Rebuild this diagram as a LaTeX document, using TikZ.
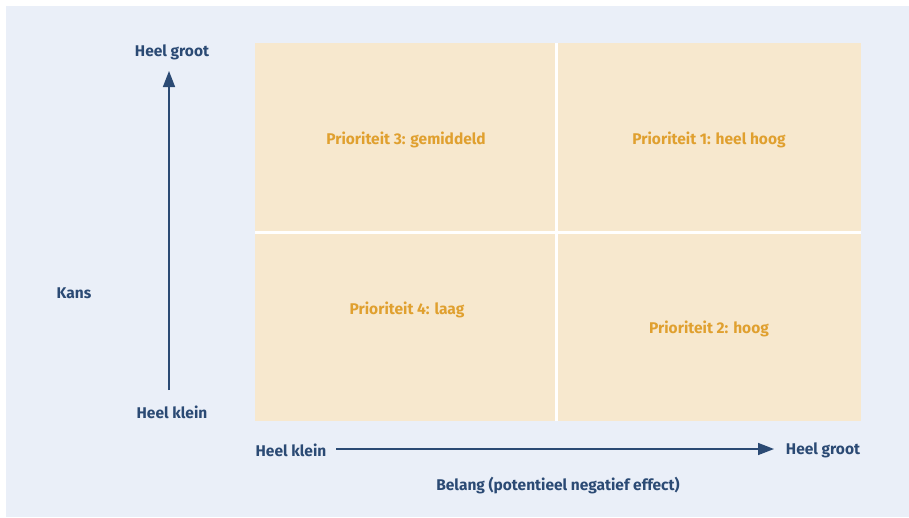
\documentclass[tikz,border=0pt]{standalone}
\usepackage{fontspec}
\setmainfont{Fira Sans}
\usetikzlibrary{arrows.meta}
\definecolor{panel}{HTML}{EAEFF8}
\definecolor{cellfill}{HTML}{F7E8CE}
\definecolor{navy}{HTML}{2B4A74}
\definecolor{amber}{HTML}{E0A02F}
\tikzset{
  cell/.style={fill=cellfill, draw=none, inner sep=0pt, anchor=north west},
  axislabel/.style={text=navy, font=\fontsize{15.5}{18}\selectfont\bfseries, inner sep=0pt},
  celllabel/.style={text=amber, font=\fontsize{15.5}{18}\selectfont\bfseries, inner sep=0pt},
  axis/.style={draw=navy, line width=1.5pt, -{Triangle[length=16pt,width=12pt]}}
}
\begin{document}
\begin{tikzpicture}[x=1pt,y=-1pt]
  \useasboundingbox (0,0) rectangle (909,517);
  \fill[panel] (6,6) rectangle (909,517);

  % risk matrix: white gutters between the four cells
  \fill[white] (255,43) rectangle (861,421);
  \node[cell, minimum width=300pt, minimum height=188pt] (c3) at (255,43) {};
  \node[cell, minimum width=303pt, minimum height=188pt] (c1) at (558,43) {};
  \node[cell, minimum width=300pt, minimum height=187pt] (c4) at (255,234) {};
  \node[cell, minimum width=303pt, minimum height=187pt] (c2) at (558,234) {};

  \node[celllabel] (p3) at (406,140) {Prioriteit 3: gemiddeld};
  \node[celllabel] (p1) at (709,140) {Prioriteit 1: heel hoog};
  \node[celllabel] (p4) at (407,310) {Prioriteit 4: laag};
  \node[celllabel] (p2) at (709,329) {Prioriteit 2: hoog};

  % vertical axis: Kans
  \node[axislabel] (ytop) at (172,52) {Heel groot};
  \node[axislabel] (ybot) at (172,412) {Heel klein};
  \node[axislabel] (kans) at (74,293) {Kans};
  \coordinate (ystart) at (169,390);
  \coordinate (yend) at (169,71);
  \draw[axis] (ystart) -- (yend);

  % horizontal axis: Belang
  \node[axislabel] (xleft) at (291,450) {Heel klein};
  \node[axislabel] (xright) at (823,450) {Heel groot};
  \node[axislabel] (belang) at (558,486) {Belang (potentieel negatief effect)};
  \coordinate (xstart) at (336,449);
  \coordinate (xend) at (774,449);
  \draw[axis] (xstart) -- (xend);
\end{tikzpicture}
\end{document}
